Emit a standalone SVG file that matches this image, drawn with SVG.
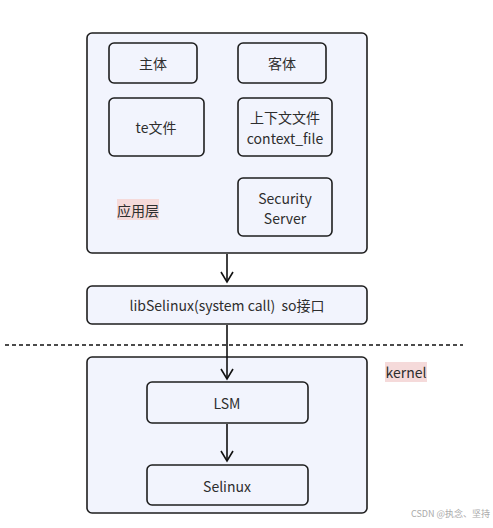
<svg xmlns="http://www.w3.org/2000/svg" width="493" height="528" viewBox="0 0 493 528">
<style>
.box{fill:#f2f4fd;stroke:#1e1e1e;stroke-width:1.6}
.t{font-family:"Noto Sans CJK SC","Noto Sans",sans-serif;font-size:14px;fill:#2e2e2e;text-anchor:middle;dominant-baseline:central}
.hl{fill:#f5dada}
.ln{stroke:#111;stroke-width:1.6;fill:none}
</style>
<defs>
<marker id="ah" markerWidth="14" markerHeight="14" viewBox="0 0 14 14" refX="12" refY="7" orient="auto" markerUnits="userSpaceOnUse">
<path d="M2,1 L12,7 L2,13" fill="none" stroke="#111" stroke-width="1.6"/>
</marker>
</defs>
<rect width="493" height="528" fill="#fff"/>
<g id="app-layer">
<rect class="box" x="87" y="33" width="280" height="220" rx="5"/>
<rect class="hl" x="117" y="199" width="42" height="21"/>
<text class="t" x="138" y="210">应用层</text>
</g>
<g id="subject"><rect class="box" x="109" y="43" width="88" height="40" rx="5"/><text class="t" x="153" y="63">主体</text></g>
<g id="object"><rect class="box" x="238" y="43" width="88" height="40" rx="5"/><text class="t" x="282" y="63">客体</text></g>
<g id="te"><rect class="box" x="109" y="98" width="95" height="58" rx="5"/><text class="t" x="156" y="127">te文件</text></g>
<g id="context"><rect class="box" x="238" y="98" width="94" height="58" rx="5"/><text class="t" x="285" y="117">上下文文件</text><text class="t" x="285" y="138">context_file</text></g>
<g id="secserver"><rect class="box" x="238" y="178" width="94" height="58" rx="5"/><text class="t" x="285" y="198">Security</text><text class="t" x="285" y="218">Server</text></g>
<g id="libselinux"><rect class="box" x="87" y="286" width="280" height="38" rx="5"/><text class="t" x="227" y="305" xml:space="preserve">libSelinux(system call)  so接口</text></g>
<g id="kernel-layer">
<rect class="box" x="87" y="357" width="280" height="156" rx="5"/>
<rect class="hl" x="385" y="362" width="42" height="20"/>
<text class="t" x="406" y="372">kernel</text>
</g>
<g id="lsm"><rect class="box" x="147" y="382" width="161" height="41" rx="5"/><text class="t" x="227" y="403">LSM</text></g>
<g id="selinux"><rect class="box" x="147" y="465" width="161" height="40" rx="5"/><text class="t" x="227" y="486">Selinux</text></g>
<g id="connectors">
<line class="ln" x1="227" y1="254" x2="227" y2="282" marker-end="url(#ah)"/>
<line class="ln" x1="227" y1="325" x2="227" y2="379" marker-end="url(#ah)"/>
<line class="ln" x1="227" y1="424" x2="227" y2="461" marker-end="url(#ah)"/>
<line x1="5" y1="345" x2="463" y2="345" stroke="#111" stroke-width="1.4" stroke-dasharray="4,3"/>
</g>
<text x="490" y="517" font-family="Noto Sans CJK SC,sans-serif" font-size="9" fill="#aaa" text-anchor="end">CSDN @执念、坚持</text>
</svg>
